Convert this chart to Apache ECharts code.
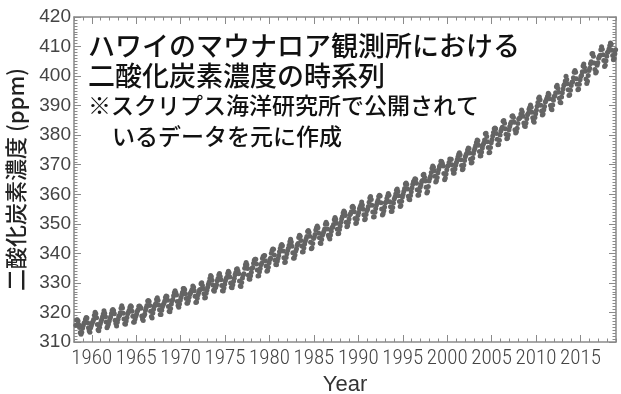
<!DOCTYPE html>
<html>
<head>
<meta charset="utf-8">
<script src="https://cdn.jsdelivr.net/npm/echarts@6/dist/echarts.min.js"></script>
<style>
  html, body { margin: 0; padding: 0; background: #fff; }
  #chart { width: 621px; height: 394px; }
</style>
</head>
<body>
<div id="chart"></div>
<script>
// Monthly mean CO2 at Mauna Loa (ppm), Jan..Dec per row; 1958 starts in March.
const co2_1958 = [315.71, 317.45, 317.50, 317.10, 315.86, 314.93, 313.20, 312.66, 313.33, 314.67];
const co2_1959_1969 = [
  [315.62, 316.38, 316.71, 317.72, 318.29, 318.15, 316.54, 314.80, 313.84, 313.26, 314.80, 315.58],
  [316.43, 316.97, 317.58, 319.02, 320.03, 319.59, 318.18, 315.91, 314.16, 313.83, 315.00, 316.19],
  [316.93, 317.70, 318.54, 319.48, 320.58, 319.77, 318.57, 316.79, 314.80, 315.38, 316.10, 317.01],
  [317.94, 318.56, 319.68, 320.63, 321.01, 320.55, 319.58, 317.40, 316.26, 315.42, 316.69, 317.69],
  [318.74, 319.08, 319.86, 321.39, 322.25, 321.47, 319.74, 317.77, 316.21, 315.99, 317.12, 318.31],
  [319.57, 320.07, 320.73, 321.77, 322.25, 321.89, 320.44, 318.70, 316.70, 316.79, 317.79, 318.71],
  [319.44, 320.44, 320.89, 322.13, 322.16, 321.87, 321.39, 318.81, 317.81, 317.30, 318.87, 319.42],
  [320.62, 321.59, 322.39, 323.87, 324.01, 323.75, 322.39, 320.37, 318.64, 318.10, 319.79, 321.08],
  [322.07, 322.50, 323.04, 324.42, 325.00, 324.09, 322.55, 320.92, 319.31, 319.31, 320.72, 321.96],
  [322.57, 323.15, 323.89, 325.02, 325.57, 325.36, 324.14, 322.03, 320.41, 320.25, 321.31, 322.84],
  [324.00, 324.42, 325.64, 326.66, 327.38, 326.70, 325.89, 323.67, 322.38, 321.78, 322.85, 324.12]
];
const co2_1970s = [
  [325.03, 325.99, 326.87, 328.13, 328.07, 327.66, 326.35, 324.69, 323.10, 323.16, 323.98, 325.13],
  [326.17, 326.68, 327.18, 327.78, 328.92, 328.57, 327.34, 325.46, 323.36, 323.57, 324.80, 326.01],
  [326.77, 327.63, 327.75, 329.72, 330.07, 329.09, 328.05, 326.32, 324.93, 325.06, 326.50, 327.55],
  [328.54, 329.56, 330.30, 331.50, 332.48, 332.07, 330.87, 329.31, 327.51, 327.18, 328.16, 328.64],
  [329.35, 330.71, 331.48, 332.65, 333.20, 332.16, 331.07, 329.12, 327.32, 327.28, 328.30, 329.58],
  [330.73, 331.46, 331.90, 333.17, 333.94, 333.45, 331.97, 329.95, 328.50, 328.34, 329.37, 330.58],
  [331.59, 332.75, 333.52, 334.64, 334.77, 334.00, 333.06, 330.68, 328.95, 328.75, 330.15, 331.62],
  [332.66, 333.13, 334.95, 336.13, 336.93, 336.17, 334.88, 332.56, 331.29, 331.27, 332.41, 333.60],
  [334.95, 335.25, 336.66, 337.69, 338.03, 338.01, 336.41, 334.41, 332.37, 332.41, 333.75, 334.90],
  [336.14, 336.69, 338.27, 338.96, 339.21, 339.26, 337.54, 335.75, 333.98, 334.19, 335.31, 336.81]
];
const co2_1980s = [
  [337.90, 338.34, 340.01, 340.93, 341.45, 341.36, 339.45, 337.67, 336.25, 336.14, 337.30, 338.29],
  [339.29, 340.55, 341.63, 342.60, 343.04, 342.54, 340.82, 338.48, 336.95, 337.05, 338.58, 339.91],
  [340.93, 341.76, 342.78, 343.96, 344.77, 343.88, 342.42, 340.24, 338.38, 338.41, 339.44, 340.78],
  [341.57, 342.79, 343.37, 345.40, 346.14, 345.76, 344.32, 342.51, 340.46, 340.53, 341.79, 343.20],
  [344.21, 344.92, 345.68, 347.37, 347.78, 347.16, 345.79, 343.74, 341.59, 341.86, 343.31, 345.00],
  [345.48, 346.41, 347.91, 348.66, 349.28, 348.65, 346.90, 345.26, 343.47, 343.35, 344.73, 346.12],
  [346.78, 347.48, 348.25, 349.86, 350.52, 349.98, 348.25, 346.17, 345.48, 344.82, 346.22, 347.48],
  [348.73, 348.92, 349.81, 351.40, 352.15, 351.58, 350.21, 348.20, 346.66, 346.72, 348.08, 349.28],
  [350.49, 351.70, 352.50, 353.67, 354.35, 353.88, 352.80, 350.49, 348.97, 349.37, 350.42, 351.62],
  [353.07, 353.43, 354.08, 355.72, 355.95, 355.44, 354.05, 351.84, 350.09, 350.33, 351.55, 352.91]
];
const co2_1990s = [
  [353.86, 355.10, 355.75, 356.38, 357.38, 356.39, 354.89, 353.06, 351.38, 351.69, 353.14, 354.41],
  [354.93, 355.82, 357.33, 358.77, 359.23, 358.23, 356.30, 353.97, 352.34, 352.43, 353.89, 355.21],
  [356.34, 357.21, 357.97, 359.22, 359.71, 359.43, 357.15, 354.99, 353.01, 353.41, 354.42, 355.68],
  [357.10, 357.42, 358.59, 359.39, 360.30, 359.64, 357.46, 355.76, 354.14, 354.23, 355.53, 357.03],
  [358.36, 359.04, 360.11, 361.36, 361.78, 360.94, 359.51, 357.59, 355.86, 356.21, 357.65, 359.10],
  [360.04, 361.00, 361.98, 363.44, 363.83, 363.33, 361.78, 359.33, 358.32, 358.14, 359.61, 360.82],
  [362.20, 363.36, 364.28, 364.69, 365.25, 365.06, 363.69, 361.55, 359.69, 359.72, 361.04, 362.39],
  [363.24, 364.21, 364.65, 366.49, 366.77, 365.73, 364.46, 362.40, 360.44, 360.98, 362.65, 364.51],
  [365.39, 366.10, 367.36, 368.79, 369.56, 369.13, 367.98, 366.10, 364.16, 364.54, 365.67, 367.30],
  [368.35, 369.28, 369.84, 371.15, 371.12, 370.46, 369.61, 367.06, 364.95, 365.52, 366.88, 368.26]
];
const co2_2000s = [
  [369.45, 369.71, 370.75, 371.98, 371.75, 371.87, 370.02, 368.27, 367.15, 367.18, 368.53, 369.83],
  [370.76, 371.69, 372.63, 373.55, 374.03, 373.40, 371.68, 369.78, 368.34, 368.61, 369.94, 371.42],
  [372.70, 373.37, 373.85, 375.02, 375.65, 375.50, 374.00, 371.82, 370.55, 370.80, 372.25, 373.79],
  [374.87, 375.63, 376.47, 377.52, 378.35, 378.13, 376.62, 374.50, 372.99, 373.01, 374.34, 375.70],
  [376.79, 377.36, 378.39, 380.50, 380.62, 379.56, 377.79, 375.86, 374.06, 374.24, 375.86, 377.48],
  [378.42, 379.70, 380.92, 382.18, 382.45, 382.14, 380.60, 378.64, 376.73, 376.84, 378.29, 380.06],
  [381.40, 382.20, 382.66, 384.69, 384.94, 384.01, 382.15, 380.33, 378.81, 379.06, 380.17, 381.85],
  [382.94, 383.86, 384.49, 386.37, 386.54, 385.98, 384.36, 381.85, 380.74, 381.15, 382.38, 383.94],
  [385.44, 385.73, 385.97, 387.16, 388.50, 387.88, 386.38, 384.15, 383.07, 382.98, 384.11, 385.54],
  [386.92, 387.41, 388.77, 389.46, 390.18, 389.43, 387.74, 385.91, 384.77, 384.38, 385.99, 387.26]
];
const co2_2010s = [
  [388.45, 389.82, 391.08, 392.46, 392.96, 392.03, 390.13, 388.15, 386.80, 387.18, 388.59, 389.68],
  [391.19, 391.76, 392.40, 393.18, 394.21, 393.76, 392.36, 390.08, 388.95, 388.65, 390.20, 391.80],
  [393.07, 393.35, 394.36, 396.43, 396.87, 395.88, 394.52, 392.54, 391.13, 391.01, 392.95, 394.34],
  [395.61, 396.85, 397.26, 398.35, 399.98, 398.87, 397.37, 395.41, 393.39, 393.70, 395.19, 396.82],
  [397.92, 398.10, 399.47, 401.33, 401.88, 401.31, 399.07, 397.21, 395.40, 395.65, 397.23, 398.79],
  [399.85, 400.31, 401.51, 403.45, 404.10, 402.88, 401.61, 399.00, 397.50, 398.28, 400.24, 401.89],
  [402.65, 404.16, 404.85, 407.57, 407.66, 406.69, 404.45, 402.21, 401.01, 401.50, 403.64, 404.55],
  [406.07, 406.64, 407.06, 408.95, 409.91, 409.12, 407.20, 405.24, 403.27, 403.64, 405.17, 406.75],
  [407.98, 408.36, 409.21, 410.24, 411.24, 410.79, 408.71, 406.99, 405.51, 405.95, 407.59, 408.90]
];

// Axis settings
const xMin = 1958, xMax = 2019;
const yMin = 310, yMax = 420, yStep = 10;
const xTickYears = [1960, 1965, 1970, 1975, 1980, 1985, 1990, 1995, 2000, 2005, 2010, 2015];

const titleLines = [
  'ハワイのマウナロア観測所における',
  '二酸化炭素濃度の時系列',
  '※スクリプス海洋研究所で公開されて',
  'いるデータを元に作成'
];
const yAxisTitle = '二酸化炭素濃度 (ppm)';
const xAxisTitle = 'Year';

// Build [decimal year, ppm] pairs at mid-month
const points = [];
function addYear(year, values, firstMonth) {
  values.forEach((v, i) => {
    const m = firstMonth + i;
    points.push([year + (m - 0.5) / 12, v]);
  });
}
addYear(1958, co2_1958, 3);
co2_1959_1969.forEach((row, i) => addYear(1959 + i, row, 1));
co2_1970s.forEach((row, i) => addYear(1970 + i, row, 1));
co2_1980s.forEach((row, i) => addYear(1980 + i, row, 1));
co2_1990s.forEach((row, i) => addYear(1990 + i, row, 1));
co2_2000s.forEach((row, i) => addYear(2000 + i, row, 1));
co2_2010s.forEach((row, i) => addYear(2010 + i, row, 1));

const axisGray = '#8a8a8a';
const labelGray = '#444';
const cjk = '"Noto Sans CJK JP", "Noto Sans", sans-serif';

// Frame axis: line + inward ticks, no labels
function frameAxis(extra) {
  return Object.assign({
    type: 'value',
    axisLine: { show: true, lineStyle: { color: axisGray, width: 1.5 } },
    axisTick: { show: true, inside: true, length: 3.5, lineStyle: { color: axisGray, width: 1 } },
    splitLine: { show: false },
    axisLabel: { show: false }
  }, extra);
}
// Overlay axis carrying only the long 5-year ticks
function majorYearAxis(pos) {
  return {
    type: 'value', min: xMin, max: xMax, position: pos,
    axisLine: { show: false },
    axisTick: { show: true, inside: true, length: 7, customValues: xTickYears, lineStyle: { color: axisGray, width: 1 } },
    splitLine: { show: false },
    axisLabel: { show: false }
  };
}

const chart = echarts.init(document.getElementById('chart'), null, { renderer: 'canvas' });
chart.setOption({
  animation: false,
  grid: { left: 74, right: 5, top: 17, bottom: 52, outerBoundsMode: 'none', containLabel: false },
  xAxis: [
    frameAxis({
      min: xMin, max: xMax, interval: 1, position: 'bottom',
      axisLabel: {
        show: true, color: labelGray, fontSize: 21, fontWeight: 300,
        fontFamily: '"Roboto Condensed", sans-serif',
        margin: 6,
        hideOverlap: false,
        customValues: xTickYears,
        formatter: v => String(v)
      },
      name: xAxisTitle, nameLocation: 'middle', nameGap: 29,
      nameTextStyle: { color: '#333', fontSize: 22, fontFamily: '"Liberation Sans", sans-serif' }
    }),
    frameAxis({ min: xMin, max: xMax, interval: 1, position: 'top' }),
    majorYearAxis('bottom'),
    majorYearAxis('top')
  ],
  yAxis: [
    frameAxis({
      min: yMin, max: yMax, interval: yStep, position: 'left',
      axisTick: { show: true, inside: true, length: 7, lineStyle: { color: axisGray, width: 1 } },
      minorTick: { show: true, splitNumber: 10, length: 3.5, lineStyle: { color: axisGray, width: 1 } },
      axisLabel: {
        show: true, color: labelGray, fontSize: 19,
        fontFamily: '"Liberation Sans", sans-serif', margin: 3
      },
      name: yAxisTitle, nameLocation: 'middle', nameGap: 47, nameRotate: 90,
      nameTextStyle: { color: '#222', fontSize: 22, fontWeight: 500, fontFamily: cjk }
    }),
    frameAxis({
      min: yMin, max: yMax, interval: yStep, position: 'right',
      axisTick: { show: true, inside: true, length: 7, lineStyle: { color: axisGray, width: 1 } },
      minorTick: { show: true, splitNumber: 10, length: 3.5, lineStyle: { color: axisGray, width: 1 } }
    })
  ],
  graphic: [
    { type: 'text', left: 88, top: 32, style: { text: titleLines[0], font: '500 27px ' + cjk, fill: '#111' } },
    { type: 'text', left: 88, top: 62, style: { text: titleLines[1], font: '500 27px ' + cjk, fill: '#111' } },
    { type: 'text', left: 88, top: 94, style: { text: titleLines[2], font: '500 23px ' + cjk, fill: '#111' } },
    { type: 'text', left: 112, top: 125, style: { text: titleLines[3], font: '500 23px ' + cjk, fill: '#111' } }
  ],
  series: [{
    type: 'scatter',
    xAxisIndex: 0, yAxisIndex: 0,
    data: points,
    symbol: 'circle',
    symbolSize: 5,
    itemStyle: { color: '#646464', opacity: 1 },
    silent: true
  }]
});
</script>
</body>
</html>
